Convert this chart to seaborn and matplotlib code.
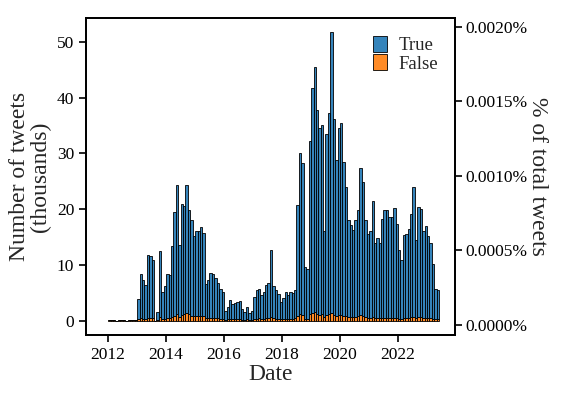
import numpy as np
import pandas as pd
import matplotlib
matplotlib.use("Agg")
import matplotlib.pyplot as plt
import matplotlib.dates as mdates
from matplotlib.ticker import FuncFormatter
import seaborn as sns

# Monthly tweet counts (thousands), Jan 2012 .. May 2023
true_vals = [
    # 2012
    0.07, 0.07, 0.07, 0.0, 0.07, 0.07, 0.07, 0.0, 0.07, 0.07, 0.07, 0.07,
    # 2013
    3.5, 7.9, 6.85, 6.0, 11.25, 11.05, 10.4, 0.0, 1.5, 11.8, 4.9, 5.85,
    # 2014
    7.95, 7.65, 12.7, 18.6, 23.2, 12.9, 20.0, 19.4, 23.0, 18.8, 17.1, 14.3,
    # 2015
    15.3, 15.3, 15.85, 14.9, 6.2, 6.75, 8.0, 7.8, 7.25, 6.3, 5.35, 4.8,
    # 2016
    1.55, 2.2, 3.35, 2.7, 2.95, 3.05, 3.25, 1.85, 1.48, 2.2, 1.3, 1.58,
    # 2017
    4.0, 5.05, 5.2, 4.3, 4.75, 5.9, 6.25, 12.1, 5.8, 5.05, 4.4, 3.05,
    # 2018
    3.7, 4.75, 4.2, 4.75, 4.55, 5.0, 19.8, 29.0, 27.3, 9.25, 8.85, 31.1,
    # 2019
    40.3, 44.0, 36.5, 33.6, 34.0, 15.5, 32.4, 36.2, 50.4, 35.1, 27.9, 33.6,
    # 2020
    34.5, 27.6, 23.1, 17.4, 16.4, 15.7, 17.3, 18.9, 26.4, 24.0, 17.5, 15.0,
    # 2021
    15.6, 20.8, 13.5, 14.35, 13.6, 17.7, 19.3, 19.3, 18.15, 18.15, 19.7, 16.9,
    # 2022
    12.25, 10.6, 15.0, 15.1, 15.95, 18.55, 23.2, 14.05, 19.65, 19.4, 15.5, 16.4,
    # 2023
    14.65, 13.5, 9.9, 5.5, 5.2,
]
false_vals = [
    # 2012
    0.01, 0.01, 0.01, 0.0, 0.01, 0.01, 0.01, 0.0, 0.01, 0.01, 0.01, 0.01,
    # 2013
    0.3, 0.4, 0.35, 0.3, 0.45, 0.45, 0.4, 0.0, 0.1, 0.6, 0.3, 0.35,
    # 2014
    0.45, 0.45, 0.6, 0.8, 1.1, 0.7, 1.0, 1.1, 1.3, 1.1, 0.9, 0.8,
    # 2015
    0.8, 0.8, 0.85, 0.8, 0.4, 0.45, 0.5, 0.5, 0.45, 0.4, 0.35, 0.3,
    # 2016
    0.15, 0.2, 0.25, 0.2, 0.25, 0.25, 0.25, 0.15, 0.12, 0.2, 0.1, 0.12,
    # 2017
    0.3, 0.35, 0.4, 0.3, 0.35, 0.4, 0.45, 0.6, 0.4, 0.35, 0.3, 0.25,
    # 2018
    0.3, 0.35, 0.3, 0.35, 0.35, 0.4, 0.9, 1.1, 1.0, 0.35, 0.35, 1.2,
    # 2019
    1.4, 1.5, 1.2, 1.0, 1.1, 0.6, 1.0, 1.1, 1.3, 1.0, 0.9, 1.0,
    # 2020
    1.0, 0.9, 0.8, 0.7, 0.7, 0.6, 0.7, 0.9, 1.0, 0.8, 0.6, 0.5,
    # 2021
    0.5, 0.6, 0.4, 0.45, 0.4, 0.5, 0.5, 0.5, 0.45, 0.45, 0.5, 0.4,
    # 2022
    0.35, 0.3, 0.4, 0.4, 0.45, 0.55, 0.7, 0.45, 0.65, 0.6, 0.5, 0.5,
    # 2023
    0.45, 0.4, 0.3, 0.2, 0.2,
]
hue_labels = ["True", "False"]
pct_ticks = [0.0, 0.0005, 0.0010, 0.0015, 0.0020]
left_ticks = [0, 10, 20, 30, 40, 50]

n = len(true_vals)
months = pd.date_range("2012-01-01", periods=n + 1, freq="MS")
month_num = mdates.date2num(months[:-1])
edges = [float(e) for e in mdates.date2num(months)]

df = pd.DataFrame({
    "date": np.concatenate([month_num, month_num]),
    "count": np.concatenate([true_vals, false_vals]),
    "label": ["True"] * n + ["False"] * n,
})

sns.set_style("ticks")
plt.rcParams["font.family"] = ["Liberation Serif", "DejaVu Serif"]
plt.rcParams["axes.linewidth"] = 1.3
plt.rcParams["xtick.major.width"] = 1.2
plt.rcParams["ytick.major.width"] = 1.2
plt.rcParams["xtick.major.size"] = 5
plt.rcParams["ytick.major.size"] = 5
plt.rcParams["axes.edgecolor"] = "black"
plt.rcParams["xtick.color"] = "black"
plt.rcParams["ytick.color"] = "black"

fig = plt.figure(figsize=(5.62, 3.93), dpi=100)
ax = fig.add_axes([86 / 562, 1 - 335 / 393, (455 - 86) / 562, (335 - 18) / 393])

sns.histplot(data=df, x="date", weights="count", hue="label", hue_order=hue_labels,
             multiple="stack", bins=edges, palette=["#1f77b4", "#ff7f0e"],
             edgecolor="black", linewidth=0.6, alpha=0.9, ax=ax)

ax.set_xlim(mdates.date2num(pd.Timestamp("2011-03-28")),
            mdates.date2num(pd.Timestamp("2023-12-20")))
ax.set_ylim(-2.6, 54.3)
ax.set_yticks(left_ticks)
ax.xaxis.set_major_locator(mdates.YearLocator(2))
ax.xaxis.set_major_formatter(mdates.DateFormatter("%Y"))
ax.tick_params(labelsize=12.5)
ax.set_xlabel("Date", fontsize=17, labelpad=1)
ax.set_ylabel("Number of tweets\n(thousands)", fontsize=17, labelpad=4, linespacing=1.0)

sns.move_legend(ax, "upper right", bbox_to_anchor=(0.985, 0.98), title=None,
                frameon=False, fontsize=13.5, handlelength=0.75, handleheight=0.95,
                labelspacing=0.0, handletextpad=0.6, borderaxespad=0.2)

ax2 = ax.twinx()
ax2.set_ylim(-0.0000671, 0.00206)
ax2.set_yticks(pct_ticks)
ax2.yaxis.set_major_formatter(FuncFormatter(lambda v, p: f"{v:.4f}%"))
ax2.tick_params(labelsize=12.5, pad=2.5)
ax2.set_ylabel("% of total tweets", fontsize=17, rotation=270, labelpad=15)

for a in (ax, ax2):
    for s in a.spines.values():
        s.set_visible(True)
        s.set_color("black")

fig.savefig("out.png", dpi=100)
